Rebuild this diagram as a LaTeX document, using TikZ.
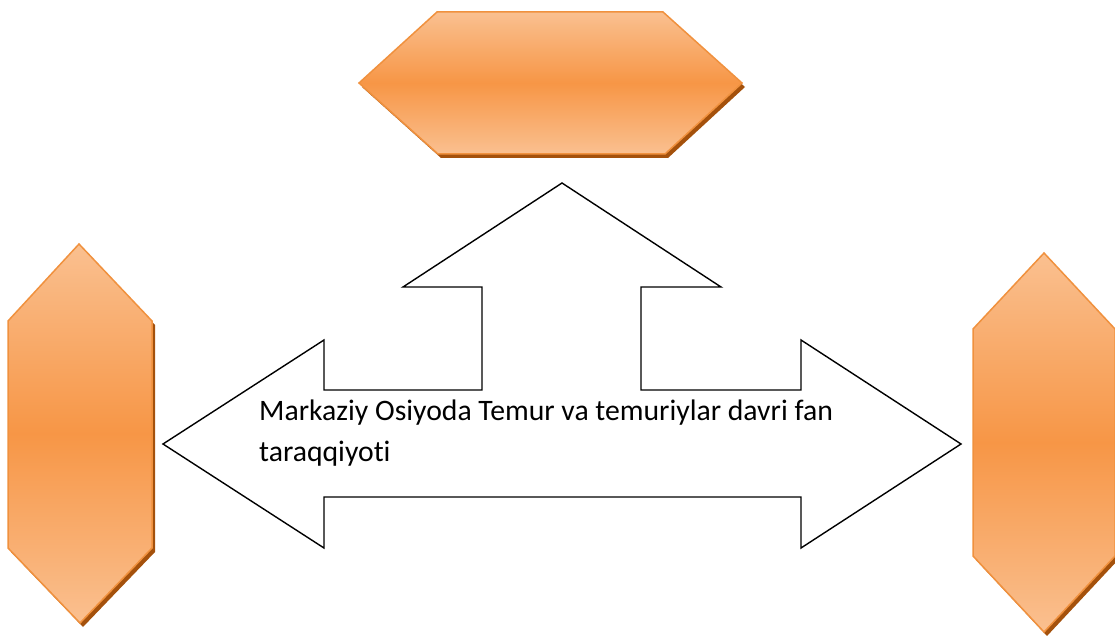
\documentclass[tikz,border=0pt]{standalone}
\usepackage{fontspec}
\setmainfont{Carlito}[Ligatures=NoCommon]
\definecolor{hexlight}{HTML}{FAC090}
\definecolor{hexmid}{HTML}{F79646}
\definecolor{hexline}{HTML}{F0913E}
\definecolor{hexshadow}{HTML}{A4510C}
\tikzset{
  hexbody/.style={top color=hexlight, bottom color=hexlight, middle color=hexmid, draw=hexline, line width=1.5pt, line join=miter},
  hexshade/.style={fill=hexshadow, draw=none},
  bigarrow/.style={draw=black, line width=1.4pt, fill=white, line join=miter},
  lbl/.style={anchor=base west, align=left, inner sep=0pt, font=\fontsize{29.7}{41}\selectfont}
}
\begin{document}
\begin{tikzpicture}[x=1pt,y=-1pt]
\useasboundingbox (0,0) rectangle (1115,636);
% top hexagon
\fill[hexshade, shift={(3,4)}] (359,83) -- (437,12) -- (663,12) -- (742,83) -- (665,154) -- (438,154) -- cycle;
\path[hexbody] (359,83) -- (437,12) -- (663,12) -- (742,83) -- (665,154) -- (438,154) -- cycle;
% left hexagon
\fill[hexshade, shift={(3,4)}] (79,244) -- (152,321) -- (152,548) -- (80,623) -- (8,548) -- (8,321) -- cycle;
\path[hexbody] (79,244) -- (152,321) -- (152,548) -- (80,623) -- (8,548) -- (8,321) -- cycle;
% right hexagon
\fill[hexshade, shift={(3,4)}] (1044,253) -- (1115,329) -- (1115,556) -- (1044,632) -- (973,556) -- (973,329) -- cycle;
\path[hexbody] (1044,253) -- (1115,329) -- (1115,556) -- (1044,632) -- (973,556) -- (973,329) -- cycle;
% three-way arrow
\path[bigarrow] (163,444) -- (324,340) -- (324,390) -- (482,390) -- (482,287) -- (403,287) -- (562,183) -- (721,287) -- (641,287) -- (641,390) -- (801,390) -- (801,340) -- (961,444) -- (801,548) -- (801,497) -- (324,497) -- (324,548) -- cycle;
\node[lbl] (label) at (259,461) {Markaziy Osiyoda Temur va temuriylar davri fan\\taraqqiyoti};
\end{tikzpicture}
\end{document}
